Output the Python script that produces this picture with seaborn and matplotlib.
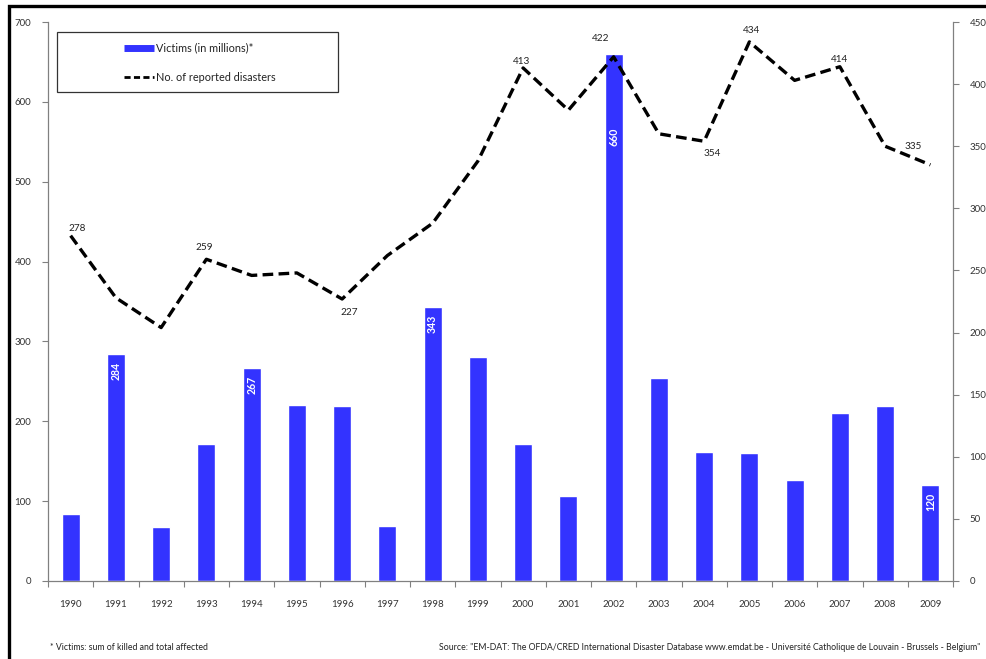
import matplotlib
matplotlib.use("Agg")
import matplotlib.pyplot as plt
import seaborn as sns
import pandas as pd
from matplotlib.lines import Line2D
from matplotlib.patches import Rectangle

years = [str(y) for y in range(1990, 2010)]
victims = [84, 284, 67, 171, 267, 221, 219, 69, 343, 280,
           171, 107, 660, 254, 161, 160, 126, 210, 219, 120]
disasters = [278, 228, 204, 259, 246, 248, 227, 262, 288, 338,
             413, 379, 422, 360, 354, 434, 403, 414, 350, 335]
victim_labels = {"1991": 284, "1994": 267, "1998": 343, "2002": 660, "2009": 120}
disaster_labels = {"1990": 278, "1993": 259, "1996": 227, "2000": 413, "2002": 422,
                   "2004": 354, "2005": 434, "2007": 414, "2009": 335}

sns.set_theme(style="white")
plt.rcParams['font.family'] = ['Lato', 'DejaVu Sans']

W, H = 987, 659
fig = plt.figure(figsize=(W / 100, H / 100), dpi=100)
ax = fig.add_axes([48 / W, 1 - 581 / H, (953 - 48) / W, (581 - 22) / H])

df = pd.DataFrame({"year": years, "victims": victims, "disasters": disasters})
BLUE = "#3333FF"
sns.barplot(data=df, x="year", y="victims", color=BLUE, saturation=1, width=0.4, ax=ax)

ax2 = ax.twinx()
sns.lineplot(x=list(range(len(years))), y=df["disasters"], ax=ax2, color="black",
             lw=2.4, dashes=False, linestyle=(0, (3.2, 1.6)))

ax.set_xlim(-0.5, 19.5)
ax.set_ylim(0, 700)
ax2.set_ylim(0, 450)
ax.set_yticks(range(0, 701, 100))
ax2.set_yticks(range(0, 451, 50))
ax.set_xlabel("")
ax.set_ylabel("")
ax2.set_ylabel("")

grey = "#808080"
for a in (ax, ax2):
    a.spines["top"].set_visible(False)
    for s in ("left", "right", "bottom"):
        a.spines[s].set_color(grey)
        a.spines[s].set_linewidth(0.9)
ax.spines["right"].set_visible(False)
ax2.spines["left"].set_visible(False)
ax2.spines["bottom"].set_visible(False)

ax.tick_params(axis="y", which="major", left=True, length=4, width=0.8, color=grey,
               labelsize=7, pad=8, labelcolor="#333333")
ax2.tick_params(axis="y", which="major", right=True, length=4, width=0.8, color=grey,
                labelsize=7, pad=8, labelcolor="#333333")
ax.set_xticks(range(len(years)))
ax.set_xticklabels(years)
ax.set_xticks([i - 0.5 for i in range(len(years) + 1)], minor=True)
ax.tick_params(axis="x", which="major", bottom=False, labelsize=7, pad=8, labelcolor="#333333")
ax.tick_params(axis="x", which="minor", bottom=True, length=4, width=0.8, color=grey)

# bar value labels
for i, y in enumerate(years):
    if y in victim_labels:
        v = victim_labels[y]
        off = -83 if v == 660 else -17
        ax.annotate(str(v), (i, victims[i]), xytext=(0, off), textcoords="offset pixels",
                    ha="center", va="center", rotation=90, color="white",
                    fontsize=7.6, fontweight="bold")

# line value labels
offsets = {"1990": (7, 7), "1993": (-2, 12), "1996": (7, -13), "2000": (-2, 6),
           "2002": (-13, 18), "2004": (8, -12), "2005": (2, 11), "2007": (0, 7),
           "2009": (-17, 18)}
for i, y in enumerate(years):
    if y in disaster_labels:
        dx, dy = offsets[y]
        ax2.annotate(str(disaster_labels[y]), (i, disasters[i]), xytext=(dx, dy),
                     textcoords="offset pixels", ha="center", va="center",
                     fontsize=7.2, color="#222222")

# legend
fig.add_artist(Rectangle((57 / W, 1 - 92 / H), (338 - 57) / W, 60 / H,
                         transform=fig.transFigure, fill=False, ec="#333333", lw=0.9))
handles = [Line2D([0], [0], color=BLUE, lw=5, solid_capstyle="butt"),
           Line2D([0], [0], color="black", lw=2, linestyle=(0, (2.2, 1.2)))]
fig.legend(handles, ["Victims (in millions)*", "No. of reported disasters"],
           loc="upper left", bbox_to_anchor=(114 / W, 1 - 33 / H), frameon=False,
           fontsize=7.8, handlelength=2.75, handletextpad=0.2, labelspacing=1.7,
           borderpad=0.4, labelcolor="#222222")

# footnotes
fig.text(50 / W, 1 - 648 / H, "* Victims: sum of killed and total affected",
         fontsize=6.3, ha="left", va="center", color="#222222")
fig.text(980 / W, 1 - 648 / H,
         "Source: \"EM-DAT: The OFDA/CRED International Disaster Database www.emdat.be - "
         "Université Catholique de Louvain - Brussels - Belgium\"",
         fontsize=6.3, ha="right", va="center", color="#222222")

# outer frame
fig.add_artist(Rectangle((9 / W, -0.2), 1.2, 1.2 - 6 / H, transform=fig.transFigure,
                         fill=False, ec="black", lw=2.4))

fig.savefig("out.png", dpi=100)
